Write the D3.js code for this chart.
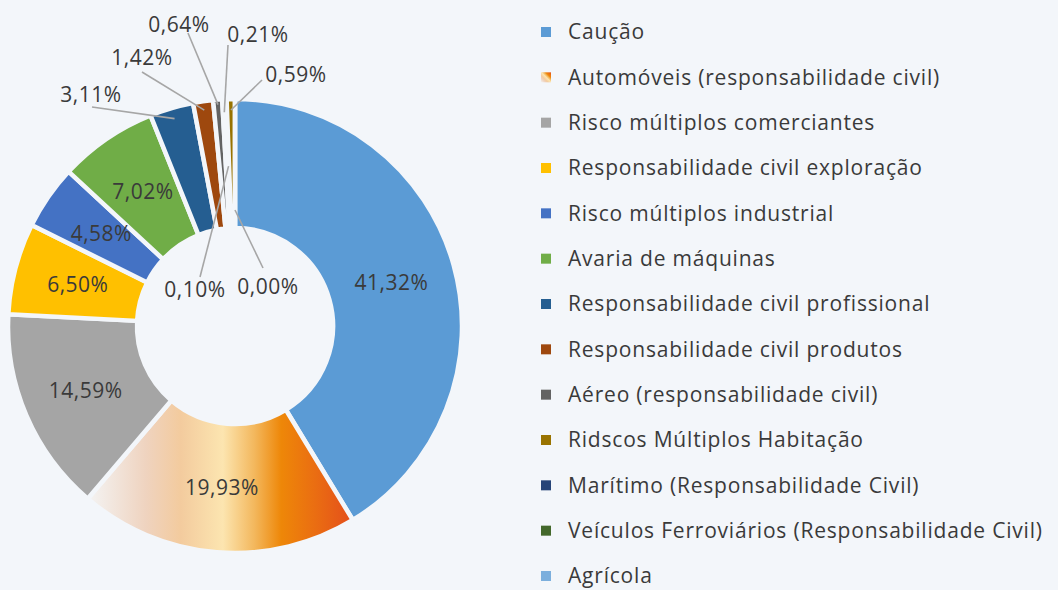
<!DOCTYPE html>
<html lang="pt">
<head>
<meta charset="utf-8">
<title>Donut</title>
<script src="https://d3js.org/d3.v7.min.js"></script>
<style>
    body, html { margin: 0; padding: 0; background: #f3f6fa; overflow: hidden; }
    text { font-family: "Open Sans", sans-serif; fill: #3a3a3a; }
    .pct { font-size: 21px; letter-spacing: 0.5px; }
    .leg { font-size: 21px; letter-spacing: 0.8px; }
</style>
</head>
<body>
<svg width="1058" height="590"></svg>
<script>
var categories = [
    "Caução",
    "Automóveis (responsabilidade civil)",
    "Risco múltiplos comerciantes",
    "Responsabilidade civil exploração",
    "Risco múltiplos industrial",
    "Avaria de máquinas",
    "Responsabilidade civil profissional",
    "Responsabilidade civil produtos",
    "Aéreo (responsabilidade civil)",
    "Ridscos Múltiplos Habitação",
    "Marítimo (Responsabilidade Civil)",
    "Veículos Ferroviários (Responsabilidade Civil)",
    "Agrícola"
];
var values = [41.32, 19.93, 14.59, 6.50, 4.58, 7.02, 3.11, 1.42, 0.64, 0.59, 0.21, 0.10, 0.00];
var colors = ["#5b9bd5", "url(#gradAuto)", "#a5a5a5", "#ffc000", "#4472c4", "#70ad47",
              "#255e91", "#9e480e", "#636363", "#997300", "#264478", "#43682b", "#7cafdd"];
// order of the slices clockwise from the top
var pieOrder = [0, 1, 2, 3, 4, 5, 6, 7, 8, 10, 11, 9, 12];

// label layout for the thin slices (offsets from the centre)
var calloutIdx = [6, 7, 8, 10, 11, 9, 12];
var calloutPos = [[-144, -231], [-93, -268], [-56, -301], [23, -291], [-40, -36], [61, -251], [33, -39]];
var calloutStart = [[-143, -219], [-93, -254], [-47, -293], [-7, -281], [-35, -49], [27, -246], [28, -58]];
var calloutR = [216, 218, 222, 214, 160, 216, 116];

var svg = d3.select("svg"),
    cx = 235, cy = 326,
    outerR = 227, innerR = 98;

var locale = d3.formatLocale({decimal: ",", thousands: ".", grouping: [3], currency: ["", "€"]});
var fmt = locale.format(".2f");

var defs = svg.append("defs");
var stops = [[0, "#f4f4f4"], [0.22, "#efd3bf"], [0.35, "#f3cb9e"], [0.51, "#fce5b0"],
             [0.63, "#f3b75c"], [0.73, "#ee8708"], [0.86, "#ea6d12"], [1, "#e44e1b"]];
function gradient(id, x1, y1, x2, y2) {
    var g = defs.append("linearGradient").attr("id", id)
        .attr("x1", x1).attr("y1", y1).attr("x2", x2).attr("y2", y2);
    stops.forEach(function (s) {
        g.append("stop").attr("offset", s[0]).attr("stop-color", s[1]);
    });
}
gradient("gradAuto", 0, 0, 1, 0);
gradient("gradAutoLegend", 0, 1, 1, 0);

var pie = d3.pie().sort(null).value(function (i) { return values[i]; });
var arc = d3.arc().innerRadius(innerR).outerRadius(outerR);
var arcs = pie(pieOrder);

var g = svg.append("g").attr("transform", "translate(" + cx + "," + cy + ")");

g.selectAll("path.slice")
    .data(arcs)
    .enter().append("path")
    .attr("class", "slice")
    .attr("d", arc)
    .attr("fill", function (d) { return colors[d.data]; })
    .attr("stroke", "#f3f6fa")
    .attr("stroke-width", 4.5)
    .attr("stroke-linejoin", "round");

function arcOf(i) { return arcs.filter(function (a) { return a.data === i; })[0]; }

// big slices: label at the centroid
arcs.filter(function (a) { return calloutIdx.indexOf(a.data) < 0; }).forEach(function (a) {
    var c = arc.centroid(a);
    g.append("text")
        .attr("class", "pct")
        .attr("x", c[0]).attr("y", c[1]).attr("dy", "0.35em")
        .attr("text-anchor", "middle")
        .text(fmt(values[a.data]) + "%");
});

// thin slices: leader lines
calloutIdx.forEach(function (i, k) {
    var a = arcOf(i);
    var ang = (a.startAngle + a.endAngle) / 2;
    var ex = calloutR[k] * Math.sin(ang), ey = -calloutR[k] * Math.cos(ang);
    g.append("line")
        .attr("x1", calloutStart[k][0]).attr("y1", calloutStart[k][1])
        .attr("x2", ex).attr("y2", ey)
        .attr("stroke", "#a6a6a6").attr("stroke-width", 1.6);
    g.append("text")
        .attr("class", "pct")
        .attr("x", calloutPos[k][0]).attr("y", calloutPos[k][1]).attr("dy", "0.35em")
        .attr("text-anchor", "middle")
        .text(fmt(values[i]) + "%");
});

// legend
var legendY = d3.scalePoint().domain(d3.range(categories.length)).range([32, 576]);
var legend = svg.append("g").selectAll("g")
    .data(categories)
    .enter().append("g")
    .attr("transform", function (d, i) { return "translate(541," + legendY(i) + ")"; });

legend.append("rect")
    .attr("x", 0).attr("y", -5).attr("width", 10).attr("height", 10)
    .attr("fill", function (d, i) { return i === 1 ? "url(#gradAutoLegend)" : colors[i]; });

legend.append("text")
    .attr("class", "leg")
    .attr("x", 27).attr("dy", "0.35em")
    .text(function (d) { return d; });
</script>
</body>
</html>
